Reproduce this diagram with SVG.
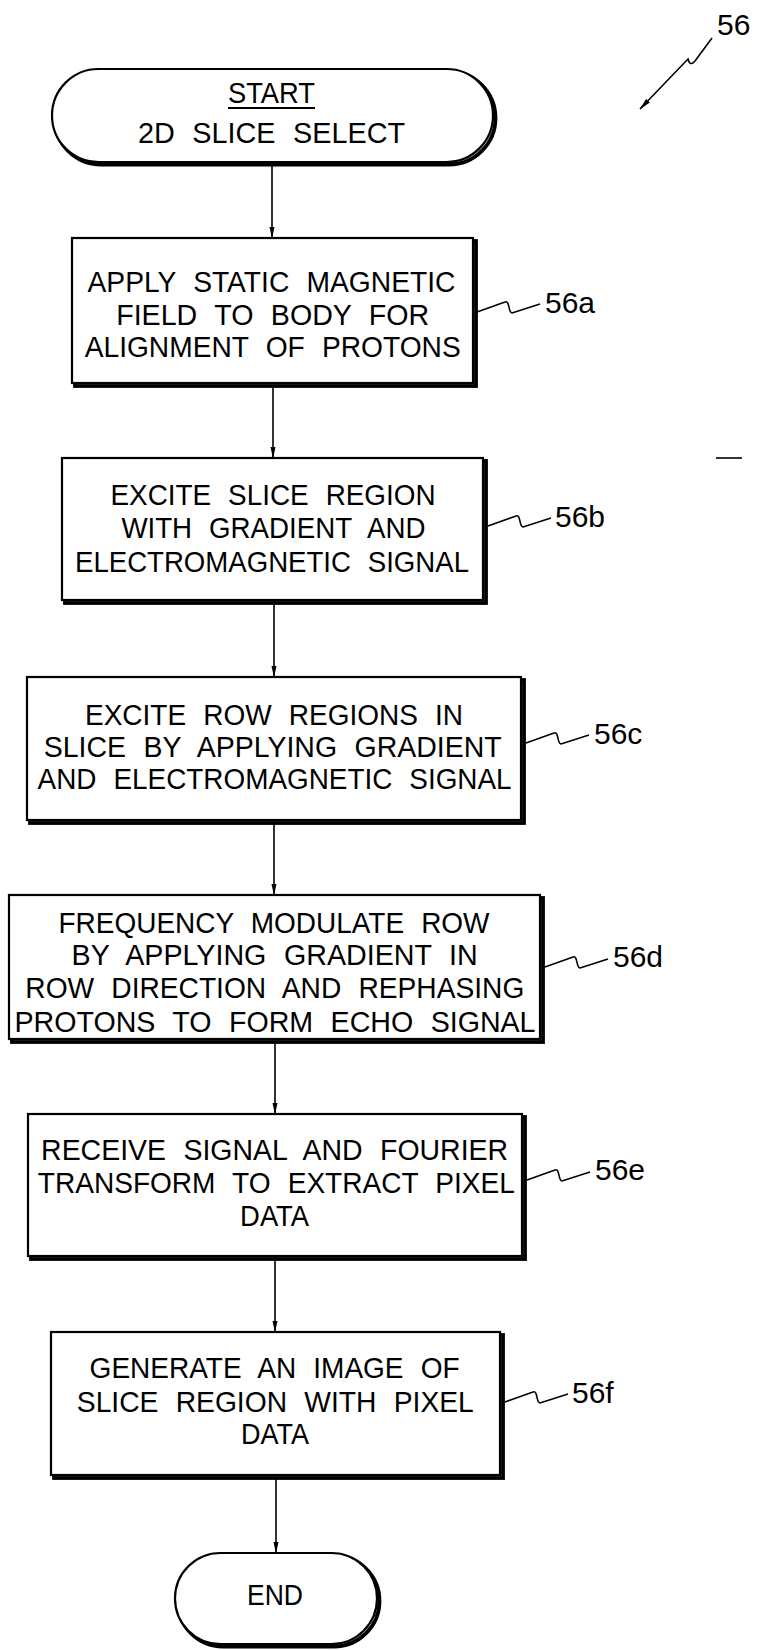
<svg xmlns="http://www.w3.org/2000/svg" width="758" height="1650" viewBox="0 0 758 1650">
<defs>
<style>
text{font-family:"Liberation Sans",Arial,sans-serif;fill:#000;}
.t{font-size:30px;text-anchor:middle;word-spacing:10px;}
.lb{font-size:30px;}
.box{fill:#fff;stroke:#000;stroke-width:2.2;}
.sh{fill:none;stroke:#000;stroke-width:3.8;}
.ln{fill:none;stroke:#000;stroke-width:1.6;}
</style>
<marker id="ah" markerUnits="userSpaceOnUse" markerWidth="12" markerHeight="24" refX="22" refY="5" orient="auto" viewBox="0 0 23 10">
<path d="M0,0 L23,5 L0,10 Z" fill="#000"/>
</marker>
</defs>
<rect width="758" height="1650" fill="#fff"/>

<g id="connectors">
<line class="ln" x1="272" y1="164" x2="272" y2="238" marker-end="url(#ah)"/>
<line class="ln" x1="273" y1="387" x2="273" y2="458" marker-end="url(#ah)"/>
<line class="ln" x1="274" y1="603" x2="274" y2="677" marker-end="url(#ah)"/>
<line class="ln" x1="274" y1="823" x2="274" y2="895" marker-end="url(#ah)"/>
<line class="ln" x1="275" y1="1042" x2="275" y2="1114" marker-end="url(#ah)"/>
<line class="ln" x1="275" y1="1259" x2="275" y2="1332" marker-end="url(#ah)"/>
<line class="ln" x1="276" y1="1478" x2="276" y2="1553" marker-end="url(#ah)"/>
</g>

<g id="ref56">
<path class="ln" d="M712,38 L695,61 Q690,67 688,59 L640,109" marker-end="url(#ah)"/>
<text class="lb" x="717" y="35">56</text>
</g>

<line class="ln" x1="716" y1="458" x2="742" y2="458"/>

<g id="start">
<rect class="sh" x="54.5" y="71.5" width="441" height="93" rx="46.5"/>
<rect class="box" x="52" y="69" width="441" height="93" rx="46.5"/>
<text class="t" x="271.5" y="103" textLength="87" lengthAdjust="spacingAndGlyphs">START</text>
<line x1="228" y1="108" x2="315" y2="108" stroke="#000" stroke-width="2"/>
<text class="t" x="271.5" y="143" textLength="267" lengthAdjust="spacingAndGlyphs">2D SLICE SELECT</text>
</g>

<g id="n56a">
<rect class="sh" x="75" y="241" width="401" height="145"/>
<rect class="box" x="72" y="238" width="401" height="145"/>
<text class="t" x="271.5" y="292" textLength="368" lengthAdjust="spacingAndGlyphs">APPLY STATIC MAGNETIC</text>
<text class="t" x="272.7" y="325" textLength="313" lengthAdjust="spacingAndGlyphs">FIELD TO BODY FOR</text>
<text class="t" x="272.7" y="357" textLength="376" lengthAdjust="spacingAndGlyphs">ALIGNMENT OF PROTONS</text>
<path class="ln" d="M477,312 l28,-10 c5,-2 3,11 7,11 l28,-9"/>
<text class="lb" x="545" y="313">56a</text>
</g>

<g id="n56b">
<rect class="sh" x="65" y="461" width="421" height="142"/>
<rect class="box" x="62" y="458" width="421" height="142"/>
<text class="t" x="273" y="505" textLength="325" lengthAdjust="spacingAndGlyphs">EXCITE SLICE REGION</text>
<text class="t" x="273.4" y="538" textLength="304" lengthAdjust="spacingAndGlyphs">WITH GRADIENT AND</text>
<text class="t" x="272" y="572" textLength="394" lengthAdjust="spacingAndGlyphs">ELECTROMAGNETIC SIGNAL</text>
<path class="ln" d="M488,526 l28,-10 c5,-2 3,11 7,11 l28,-9"/>
<text class="lb" x="555" y="527">56b</text>
</g>

<g id="n56c">
<rect class="sh" x="30" y="680" width="494" height="143"/>
<rect class="box" x="27" y="677" width="494" height="143"/>
<text class="t" x="274" y="725" textLength="378" lengthAdjust="spacingAndGlyphs">EXCITE ROW REGIONS IN</text>
<text class="t" x="272.7" y="757" textLength="458" lengthAdjust="spacingAndGlyphs">SLICE BY APPLYING GRADIENT</text>
<text class="t" x="274.6" y="789" textLength="474" lengthAdjust="spacingAndGlyphs">AND ELECTROMAGNETIC SIGNAL</text>
<path class="ln" d="M526,743 l28,-10 c5,-2 3,11 7,11 l28,-9"/>
<text class="lb" x="594" y="744">56c</text>
</g>

<g id="n56d">
<rect class="sh" x="12" y="898" width="531" height="144"/>
<rect class="box" x="9" y="895" width="531" height="144"/>
<text class="t" x="274" y="933" textLength="431" lengthAdjust="spacingAndGlyphs">FREQUENCY MODULATE ROW</text>
<text class="t" x="274.6" y="965" textLength="406" lengthAdjust="spacingAndGlyphs">BY APPLYING GRADIENT IN</text>
<text class="t" x="274.8" y="998" textLength="499" lengthAdjust="spacingAndGlyphs">ROW DIRECTION AND REPHASING</text>
<text class="t" x="275" y="1032" textLength="521" lengthAdjust="spacingAndGlyphs">PROTONS TO FORM ECHO SIGNAL</text>
<path class="ln" d="M545,967 l28,-10 c5,-2 3,11 7,11 l28,-9"/>
<text class="lb" x="613" y="967">56d</text>
</g>

<g id="n56e">
<rect class="sh" x="31" y="1117" width="494" height="142"/>
<rect class="box" x="28" y="1114" width="494" height="142"/>
<text class="t" x="274.6" y="1160" textLength="467" lengthAdjust="spacingAndGlyphs">RECEIVE SIGNAL AND FOURIER</text>
<text class="t" x="276.3" y="1193" textLength="477" lengthAdjust="spacingAndGlyphs">TRANSFORM TO EXTRACT PIXEL</text>
<text class="t" x="274.6" y="1226" textLength="69" lengthAdjust="spacingAndGlyphs">DATA</text>
<path class="ln" d="M527,1180 l28,-10 c5,-2 3,11 7,11 l28,-9"/>
<text class="lb" x="595" y="1180">56e</text>
</g>

<g id="n56f">
<rect class="sh" x="54" y="1335" width="449" height="143"/>
<rect class="box" x="51" y="1332" width="449" height="143"/>
<text class="t" x="274.6" y="1378" textLength="370" lengthAdjust="spacingAndGlyphs">GENERATE AN IMAGE OF</text>
<text class="t" x="275.3" y="1412" textLength="397" lengthAdjust="spacingAndGlyphs">SLICE REGION WITH PIXEL</text>
<text class="t" x="275" y="1444" textLength="68" lengthAdjust="spacingAndGlyphs">DATA</text>
<path class="ln" d="M505,1402 l28,-10 c5,-2 3,11 7,11 l28,-9"/>
<text class="lb" x="572" y="1403">56f</text>
</g>

<g id="end">
<rect class="sh" x="177.5" y="1555.5" width="202" height="91" rx="45.5"/>
<rect class="box" x="175" y="1553" width="202" height="91" rx="45.5"/>
<text class="t" x="275" y="1605" textLength="56" lengthAdjust="spacingAndGlyphs">END</text>
</g>
</svg>
